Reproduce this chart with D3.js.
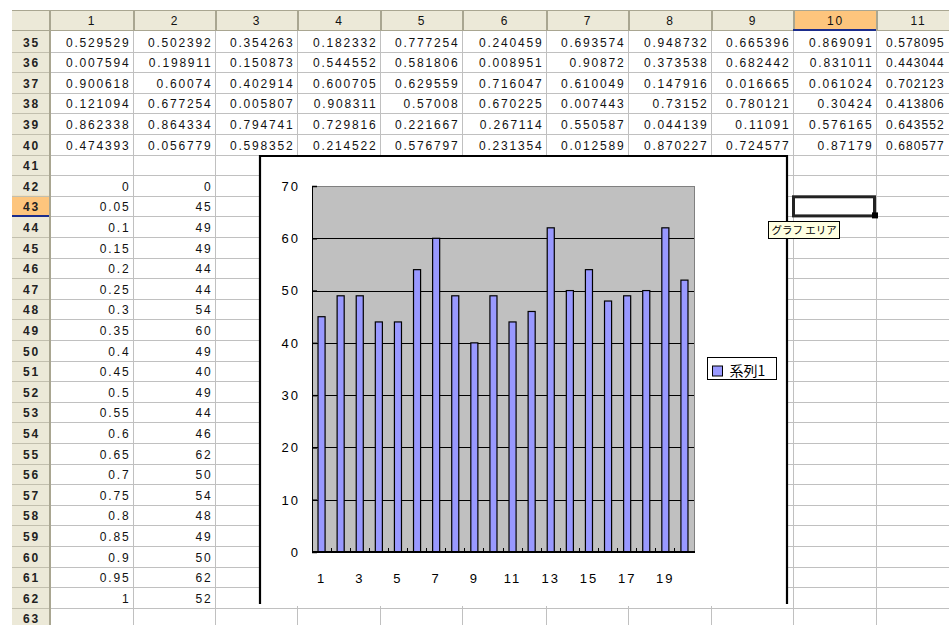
<!DOCTYPE html>
<html>
<head>
<meta charset="utf-8">
<script src="https://cdn.jsdelivr.net/npm/d3@7"></script>
<style>
  html, body { margin: 0; padding: 0; background: #fff; overflow: hidden; }
  svg { display: block; }
</style>
</head>
<body>
<svg id="sheet" width="949" height="625"></svg>
<script>
// ---- sheet contents ----
const columnLabels = ["1", "2", "3", "4", "5", "6", "7", "8", "9", "10", "11"];
const rowNumbers = [35, 36, 37, 38, 39, 40, 41, 42, 43, 44, 45, 46, 47, 48, 49, 50,
                    51, 52, 53, 54, 55, 56, 57, 58, 59, 60, 61, 62, 63];

// uniform random numbers in rows 35-40, columns 1-11
const randRow35 = ["0.529529", "0.502392", "0.354263", "0.182332", "0.777254", "0.240459", "0.693574", "0.948732", "0.665396", "0.869091", "0.578095"];
const randRow36 = ["0.007594", "0.198911", "0.150873", "0.544552", "0.581806", "0.008951", "0.90872", "0.373538", "0.682442", "0.831011", "0.443044"];
const randRow37 = ["0.900618", "0.60074", "0.402914", "0.600705", "0.629559", "0.716047", "0.610049", "0.147916", "0.016665", "0.061024", "0.702123"];
const randRow38 = ["0.121094", "0.677254", "0.005807", "0.908311", "0.57008", "0.670225", "0.007443", "0.73152", "0.780121", "0.30424", "0.413806"];
const randRow39 = ["0.862338", "0.864334", "0.794741", "0.729816", "0.221667", "0.267114", "0.550587", "0.044139", "0.11091", "0.576165", "0.643552"];
const randRow40 = ["0.474393", "0.056779", "0.598352", "0.214522", "0.576797", "0.231354", "0.012589", "0.870227", "0.724577", "0.87179", "0.680577"];
const randomRows = [randRow35, randRow36, randRow37, randRow38, randRow39, randRow40];

// frequency table, rows 42-62: bin upper edge (column 1) and count (column 2)
const binEdges = ["0", "0.05", "0.1", "0.15", "0.2", "0.25", "0.3", "0.35", "0.4", "0.45", "0.5",
                  "0.55", "0.6", "0.65", "0.7", "0.75", "0.8", "0.85", "0.9", "0.95", "1"];
const binCounts = [0, 45, 49, 49, 44, 44, 54, 60, 49, 40, 49, 44, 46, 62, 50, 54, 48, 49, 50, 62, 52];

// ---- chart contents ----
const categories = [1, 2, 3, 4, 5, 6, 7, 8, 9, 10, 11, 12, 13, 14, 15, 16, 17, 18, 19, 20];
const seriesValues = binCounts.slice(1);          // counts for rows 43-62
const yTickValues = [0, 10, 20, 30, 40, 50, 60, 70];
const xTickLabels = ["1", "3", "5", "7", "9", "11", "13", "15", "17", "19"];
const seriesName = "系列1";
const tipText = "グラフ エリア";

// ---- layout ----
const W = 949, H = 625;
const rowHeadLeft = 12, rowHeadRight = 49;
const headTop = 10, headBottom = 31, rowH = 20.6;
const colEdges = [49, 133, 215, 297, 380, 462, 546, 628, 711, 793, 876, 959];
const activeRow = 43, activeCol = 10;
const rowTop = r => headBottom + (r - rowNumbers[0]) * rowH;

const SHEET_FONT = "'Liberation Sans', Arial, sans-serif";
const CJK_FONT = "'Noto Sans CJK JP', 'Noto Sans CJK SC', sans-serif";

const svg = d3.select("#sheet");
svg.append("rect").attr("width", W).attr("height", H).attr("fill", "#fff");

// header bands
svg.append("rect").attr("x", rowHeadLeft).attr("y", headTop)
  .attr("width", W - rowHeadLeft).attr("height", headBottom - headTop).attr("fill", "#ECE9D8");
svg.append("rect").attr("x", rowHeadLeft).attr("y", headBottom)
  .attr("width", rowHeadRight - rowHeadLeft).attr("height", H - headBottom).attr("fill", "#ECE9D8");

// highlighted headers of the active cell
svg.append("rect").attr("x", colEdges[activeCol - 1]).attr("y", headTop)
  .attr("width", colEdges[activeCol] - colEdges[activeCol - 1]).attr("height", headBottom - headTop)
  .attr("fill", "#FDC57D");
svg.append("rect").attr("x", rowHeadLeft).attr("y", rowTop(activeRow))
  .attr("width", rowHeadRight - rowHeadLeft).attr("height", rowH).attr("fill", "#FDC57D");

// cell grid
const grid = svg.append("g").attr("shape-rendering", "crispEdges");
rowNumbers.forEach(r => {
  const y = Math.round(rowTop(r + 1)) + 0.5;
  grid.append("line").attr("x1", rowHeadRight).attr("x2", W).attr("y1", y).attr("y2", y)
    .attr("stroke", "#C0C0C0");
  grid.append("line").attr("x1", rowHeadLeft).attr("x2", rowHeadRight).attr("y1", y).attr("y2", y)
    .attr("stroke", "#C2BFAE");
});
colEdges.forEach(x => {
  grid.append("line").attr("x1", x + 0.5).attr("x2", x + 0.5).attr("y1", headBottom).attr("y2", H)
    .attr("stroke", "#C0C0C0");
  grid.append("line").attr("x1", x + 0.5).attr("x2", x + 0.5).attr("y1", headTop).attr("y2", headBottom)
    .attr("stroke", "#A9A691").attr("stroke-width", 2);
});
grid.append("line").attr("x1", rowHeadLeft).attr("x2", W).attr("y1", headTop + 0.5).attr("y2", headTop + 0.5)
  .attr("stroke", "#A9A691");
grid.append("line").attr("x1", rowHeadLeft).attr("x2", W).attr("y1", headBottom - 0.5).attr("y2", headBottom - 0.5)
  .attr("stroke", "#A9A691");
grid.append("line").attr("x1", rowHeadRight + 0.5).attr("x2", rowHeadRight + 0.5).attr("y1", headTop).attr("y2", H)
  .attr("stroke", "#A9A691").attr("stroke-width", 2);
// blue edge under the active headers
grid.append("line").attr("x1", colEdges[activeCol - 1]).attr("x2", colEdges[activeCol])
  .attr("y1", headBottom - 1).attr("y2", headBottom - 1).attr("stroke", "#1B2C8C").attr("stroke-width", 2);
grid.append("line").attr("x1", rowHeadLeft).attr("x2", rowHeadRight)
  .attr("y1", rowTop(activeRow + 1) - 0.5).attr("y2", rowTop(activeRow + 1) - 0.5)
  .attr("stroke", "#1B2C8C").attr("stroke-width", 1.5);

// header texts
const txt = svg.append("g").attr("font-family", SHEET_FONT).attr("font-size", 12)
  .attr("letter-spacing", 1.8).attr("fill", "#111");
columnLabels.forEach((lab, i) => {
  txt.append("text").attr("x", (colEdges[i] + colEdges[i + 1]) / 2 + 1).attr("y", headBottom - 6)
    .attr("text-anchor", "middle").text(lab);
});
rowNumbers.forEach(r => {
  txt.append("text").attr("x", (rowHeadLeft + rowHeadRight) / 2 + 1).attr("y", rowTop(r) + 15.5)
    .attr("text-anchor", "middle").attr("font-weight", "bold").attr("fill", "#222").text(r);
});

// cell values (right aligned; the last column runs to the window edge, so it is set a little tighter)
const cellText = (row, col, value) => {
  const t = txt.append("text").attr("y", rowTop(row) + 15.5).text(value);
  if (col === columnLabels.length) {
    t.attr("x", colEdges[col - 1] + 10).attr("text-anchor", "start").attr("letter-spacing", 1.1);
  } else {
    t.attr("x", colEdges[col] - 2.6).attr("text-anchor", "end");
  }
};
randomRows.forEach((vals, i) => vals.forEach((v, j) => cellText(rowNumbers[0] + i, j + 1, v)));
binEdges.forEach((v, i) => {
  cellText(42 + i, 1, v);
  cellText(42 + i, 2, binCounts[i]);
});

// ---- embedded chart ----
const chart = { x0: 260, y0: 156, x1: 787, y1: 606 };
const plot = { left: 312, right: 694, top: 186, bottom: 552 };

svg.append("rect").attr("x", chart.x0).attr("y", chart.y0)
  .attr("width", chart.x1 - chart.x0).attr("height", chart.y1 - chart.y0).attr("fill", "#fff");
svg.append("path")
  .attr("d", `M${chart.x0},${chart.y1 - 2}V${chart.y0}H${chart.x1}V${chart.y1 - 2}`)
  .attr("fill", "none").attr("stroke", "#000").attr("stroke-width", 2.2);

const x = d3.scaleBand().domain(categories).range([plot.left, plot.right])
  .paddingInner(0.63).paddingOuter(0.315);
const y = d3.scaleLinear().domain([0, 70]).range([plot.bottom, plot.top]);

// plot area
svg.append("rect").attr("x", plot.left).attr("y", plot.top)
  .attr("width", plot.right - plot.left).attr("height", plot.bottom - plot.top)
  .attr("fill", "#C0C0C0").attr("stroke", "#808080").attr("shape-rendering", "crispEdges");

// horizontal gridlines
svg.append("g").attr("shape-rendering", "crispEdges")
  .selectAll("line").data(yTickValues.filter(v => v > 0 && v < 70)).join("line")
  .attr("x1", plot.left).attr("x2", plot.right)
  .attr("y1", d => Math.round(y(d)) + 0.5).attr("y2", d => Math.round(y(d)) + 0.5)
  .attr("stroke", "#000");

// bars
svg.append("g").selectAll("rect").data(seriesValues).join("rect")
  .attr("x", (d, i) => x(categories[i]))
  .attr("y", d => y(d))
  .attr("width", x.bandwidth())
  .attr("height", d => y(0) - y(d))
  .attr("fill", "#9999FF").attr("stroke", "#000").attr("stroke-width", 1.2);

// value axis
const yAxis = d3.axisLeft(y).tickValues(yTickValues).tickSize(-5).tickPadding(0).tickFormat(d3.format("d"));
const gy = svg.append("g").attr("transform", `translate(${plot.left},0)`).call(yAxis);
gy.select(".domain").attr("stroke", "#000");
gy.selectAll(".tick line").attr("stroke", "#000").attr("stroke-width", 1.5);
gy.selectAll(".tick text").attr("x", -12).attr("dy", "0.34em")
  .attr("font-family", SHEET_FONT).attr("font-size", 13).attr("letter-spacing", 2).attr("fill", "#000");

// category axis: boundary ticks inside, labels on odd categories
const gx = svg.append("g").attr("transform", `translate(0,${plot.bottom})`);
gx.selectAll("line.cat").data(categories.slice(1)).join("line")
  .attr("x1", d => x(d) - x.step() * x.paddingInner() / 2)
  .attr("x2", d => x(d) - x.step() * x.paddingInner() / 2)
  .attr("y1", 0).attr("y2", -4).attr("stroke", "#000").attr("shape-rendering", "crispEdges");
gx.append("line").attr("x1", plot.left).attr("x2", plot.right + 1).attr("y1", 0).attr("y2", 0)
  .attr("stroke", "#000").attr("stroke-width", 2.2);
gx.selectAll("text").data(xTickLabels).join("text")
  .attr("x", d => x(+d) + x.bandwidth() / 2)
  .attr("y", 31)
  .attr("text-anchor", "middle")
  .attr("font-family", SHEET_FONT).attr("font-size", 13).attr("letter-spacing", 2).attr("fill", "#000")
  .text(d => d);

// legend
const lg = svg.append("g").attr("transform", "translate(707.5,357.5)");
lg.append("rect").attr("width", 69).attr("height", 22).attr("fill", "#fff").attr("stroke", "#000");
lg.append("rect").attr("x", 5).attr("y", 8.5).attr("width", 10).attr("height", 10)
  .attr("fill", "#9999FF").attr("stroke", "#000");
lg.append("text").attr("x", 22).attr("y", 18.5).attr("font-family", CJK_FONT).attr("font-size", 14)
  .attr("fill", "#000").text(seriesName);

// active-cell frame with fill handle
const ax0 = colEdges[activeCol - 1], ax1 = colEdges[activeCol];
svg.append("rect").attr("x", ax0 + 0.5).attr("y", rowTop(activeRow) + 1)
  .attr("width", ax1 - ax0 - 2).attr("height", rowH - 1.5)
  .attr("fill", "none").attr("stroke", "#222").attr("stroke-width", 3);
svg.append("rect").attr("x", ax1 - 4).attr("y", rowTop(activeRow + 1) - 4)
  .attr("width", 6).attr("height", 6).attr("fill", "#000");

// hover tip for the chart area
const tip = svg.append("g").attr("transform", "translate(768.5,221.5)");
tip.append("rect").attr("width", 71).attr("height", 17).attr("fill", "#FFFFE1").attr("stroke", "#000");
tip.append("text").attr("x", 3).attr("y", 12.5).attr("font-family", CJK_FONT).attr("font-size", 10.5)
  .attr("fill", "#000").text(tipText);
</script>
</body>
</html>
